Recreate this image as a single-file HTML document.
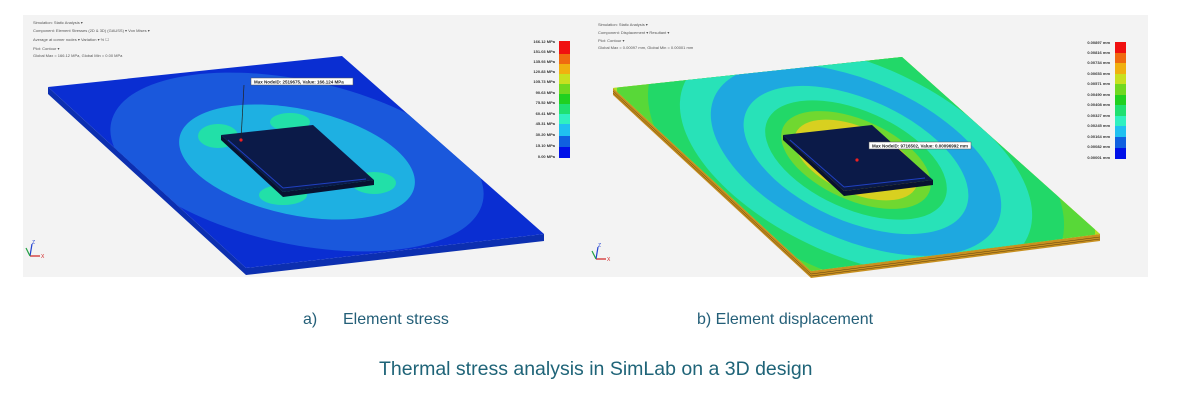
<!DOCTYPE html>
<html style="overflow:hidden;height:412px"><head><meta charset="utf-8"><style>
html,body{margin:0;width:1200px;height:412px;background:#fff;overflow:hidden;font-family:"Liberation Sans",sans-serif}
.t{position:absolute;white-space:nowrap;color:#245f78;line-height:1.1}
</style></head><body>
<svg width="1200" height="300" style="position:absolute;left:0;top:0" font-family="Liberation Sans, sans-serif">
<defs>
<clipPath id="pl"><polygon points="48,87 342,56 544,234 246,268"/></clipPath>
<clipPath id="pr"><polygon points="613,88 902,57 1100,234 811,271"/></clipPath>
</defs>
<rect x="23" y="15" width="567" height="262" fill="#f3f3f3"/>
<rect x="590" y="15" width="558" height="262" fill="#f3f3f3"/>
<!-- LEFT -->
<polygon points="48,87 246,268 544,234 544,241 246,275 48,94" fill="#0c2fb0"/>
<g clip-path="url(#pl)">
<rect x="40" y="50" width="520" height="230" fill="#0a2ed2"/>
<ellipse cx="297" cy="162" rx="190" ry="82" transform="rotate(12 297 162)" fill="#1a58dc"/>
<ellipse cx="297" cy="162" rx="120" ry="53" transform="rotate(12 297 162)" fill="#1eb0e2"/>
<ellipse cx="218" cy="136" rx="20" ry="12" fill="#22e0a8"/>
<ellipse cx="290" cy="122" rx="20" ry="9" fill="#22e0a8"/>
<ellipse cx="374" cy="183" rx="22" ry="11" fill="#22e0a8"/>
<ellipse cx="283" cy="195" rx="24" ry="10" fill="#22e0a8"/>
</g>
<polygon points="221,135 313,125 374,180 283,192" fill="#0b1a48"/>
<polygon points="221,135 283,192 374,180 374,185 283,197 221,140" fill="#081230"/>
<line x1="228" y1="140" x2="283" y2="188" stroke="#2040c0" stroke-width="1"/>
<line x1="283" y1="188" x2="366" y2="179" stroke="#2040c0" stroke-width="1"/>
<line x1="244" y1="85" x2="241" y2="140" stroke="#222" stroke-width="0.7"/>
<circle cx="241" cy="140" r="1.6" fill="#f02020"/>
<rect x="251" y="78" width="102" height="7" fill="#fff" stroke="#555" stroke-width="0.5"/>
<text x="254" y="83.5" font-size="4.5" font-weight="bold" fill="#222">Max NodeID: 2519675, Value: 166.124 MPa</text>
<g font-size="4" fill="#555">
<text x="33" y="24">Simulation: Static Analysis ▾</text>
<text x="33" y="32">Component: Element Stresses (2D &amp; 3D) (GAUSS) ▾ Von Mises ▾</text>
<text x="33" y="41">Average at corner nodes ▾  Variation ▾  % ☐</text>
<text x="33" y="50">Plot: Contour ▾</text>
<text x="33" y="57">Global Max = 166.12 MPa, Global Min = 0.00 MPa</text>
</g>
<g>
<rect x="559" y="41" width="11" height="13" fill="#f01010"/>
<rect x="559" y="54" width="11" height="10" fill="#f06a10"/>
<rect x="559" y="64" width="11" height="10" fill="#f0b010"/>
<rect x="559" y="74" width="11" height="10" fill="#c8e020"/>
<rect x="559" y="84" width="11" height="10" fill="#70d820"/>
<rect x="559" y="94" width="11" height="10" fill="#20d020"/>
<rect x="559" y="104" width="11" height="10" fill="#20e070"/>
<rect x="559" y="114" width="11" height="10" fill="#30f0c0"/>
<rect x="559" y="124" width="11" height="12" fill="#20c0f0"/>
<rect x="559" y="136" width="11" height="11" fill="#1060e0"/>
<rect x="559" y="147" width="11" height="11" fill="#0010e8"/>
</g>
<g font-size="4" font-weight="bold" fill="#333" text-anchor="end">
<text x="555" y="43">166.12 MPa</text><text x="555" y="53">151.03 MPa</text><text x="555" y="63">135.93 MPa</text><text x="555" y="73">120.83 MPa</text><text x="555" y="83">105.73 MPa</text><text x="555" y="94">90.63 MPa</text><text x="555" y="104">75.52 MPa</text><text x="555" y="115">60.41 MPa</text><text x="555" y="125">45.31 MPa</text><text x="555" y="136">30.20 MPa</text><text x="555" y="147">15.10 MPa</text><text x="555" y="158">0.00 MPa</text>
</g>
<g stroke-width="1.2" fill="none"><line x1="30" y1="256" x2="40" y2="256" stroke="#d02020"/><line x1="30" y1="256" x2="32" y2="244" stroke="#2040d0"/><line x1="30" y1="256" x2="26" y2="248" stroke="#20a040"/></g>
<text x="41" y="258" font-size="5" fill="#d02020">X</text><text x="32" y="244" font-size="5" fill="#2040d0">Z</text>
<!-- RIGHT -->
<polygon points="613,88 811,271 1100,234 1100,241 811,278 613,95" fill="#c89020"/>
<g stroke="#604010" stroke-width="0.5"><line x1="613" y1="91" x2="811" y2="274"/><line x1="811" y1="274" x2="1100" y2="237"/><line x1="613" y1="93" x2="811" y2="276"/><line x1="811" y1="276" x2="1100" y2="239"/></g>
<g clip-path="url(#pr)">
<rect x="600" y="50" width="510" height="230" fill="#e2c020"/>
<g transform="rotate(24 856 160)">
<ellipse cx="856" cy="160" rx="285" ry="150" fill="#b0e020"/>
<ellipse cx="856" cy="160" rx="255" ry="132" fill="#58d838"/>
<ellipse cx="856" cy="160" rx="222" ry="114" fill="#22d868"/>
<ellipse cx="856" cy="160" rx="188" ry="96" fill="#28e2b8"/>
<ellipse cx="856" cy="160" rx="155" ry="79" fill="#1ea8e0"/>
<ellipse cx="856" cy="160" rx="120" ry="61" fill="#28e2b8"/>
<ellipse cx="856" cy="160" rx="97" ry="49" fill="#22d868"/>
<ellipse cx="856" cy="160" rx="80" ry="40" fill="#70d830"/>
<ellipse cx="856" cy="160" rx="66" ry="33" fill="#d8d020"/>
</g>
</g>
<polygon points="783,135 872,125 933,180 844,191" fill="#0b1a48"/>
<polygon points="783,135 844,191 933,180 933,185 844,196 783,140" fill="#081230"/>
<line x1="790" y1="140" x2="844" y2="187" stroke="#2040c0"/>
<line x1="844" y1="187" x2="925" y2="178" stroke="#2040c0"/>
<circle cx="857" cy="160" r="1.6" fill="#f02020"/>
<rect x="869" y="142" width="102" height="7" fill="#fff" stroke="#555" stroke-width="0.5"/>
<text x="872" y="147.5" font-size="4.5" font-weight="bold" fill="#222">Max NodeID: 9716502, Value: 0.00096992 mm</text>
<g font-size="4" fill="#555">
<text x="598" y="26">Simulation: Static Analysis ▾</text>
<text x="598" y="34">Component: Displacement ▾ Resultant ▾</text>
<text x="598" y="42">Plot: Contour ▾</text>
<text x="598" y="49">Global Max = 0.00097 mm, Global Min = 0.00001 mm</text>
</g>
<g>
<rect x="1115" y="42" width="11" height="11" fill="#f01010"/>
<rect x="1115" y="53" width="11" height="10" fill="#f06a10"/>
<rect x="1115" y="63" width="11" height="11" fill="#f0b010"/>
<rect x="1115" y="74" width="11" height="10" fill="#c8e020"/>
<rect x="1115" y="84" width="11" height="11" fill="#70d820"/>
<rect x="1115" y="95" width="11" height="10" fill="#20d020"/>
<rect x="1115" y="105" width="11" height="11" fill="#20e070"/>
<rect x="1115" y="116" width="11" height="10" fill="#30f0c0"/>
<rect x="1115" y="126" width="11" height="11" fill="#20c0f0"/>
<rect x="1115" y="137" width="11" height="11" fill="#1060e0"/>
<rect x="1115" y="148" width="11" height="11" fill="#0010e8"/>
</g>
<g font-size="4" font-weight="bold" fill="#333" text-anchor="end">
<text x="1110" y="44">0.00897 mm</text><text x="1110" y="54">0.00816 mm</text><text x="1110" y="64">0.00734 mm</text><text x="1110" y="75">0.00653 mm</text><text x="1110" y="85">0.00571 mm</text><text x="1110" y="96">0.00490 mm</text><text x="1110" y="106">0.00408 mm</text><text x="1110" y="117">0.00327 mm</text><text x="1110" y="127">0.00245 mm</text><text x="1110" y="138">0.00164 mm</text><text x="1110" y="148">0.00082 mm</text><text x="1110" y="159">0.00001 mm</text>
</g>
<g stroke-width="1.2" fill="none"><line x1="596" y1="259" x2="606" y2="259" stroke="#d02020"/><line x1="596" y1="259" x2="598" y2="247" stroke="#2040d0"/><line x1="596" y1="259" x2="592" y2="251" stroke="#20a040"/></g>
<text x="607" y="261" font-size="5" fill="#d02020">X</text><text x="598" y="247" font-size="5" fill="#2040d0">Z</text>
</svg>
<div class="t" style="left:303px;top:311px;font-size:16px">a)</div>
<div class="t" style="left:343px;top:311px;font-size:16px">Element stress</div>
<div class="t" style="left:697px;top:311px;font-size:16px">b) Element displacement</div>
<div class="t" style="left:379px;top:359px;font-size:19.5px;color:#1f6478">Thermal stress analysis in SimLab on a 3D design</div>
</body></html>
